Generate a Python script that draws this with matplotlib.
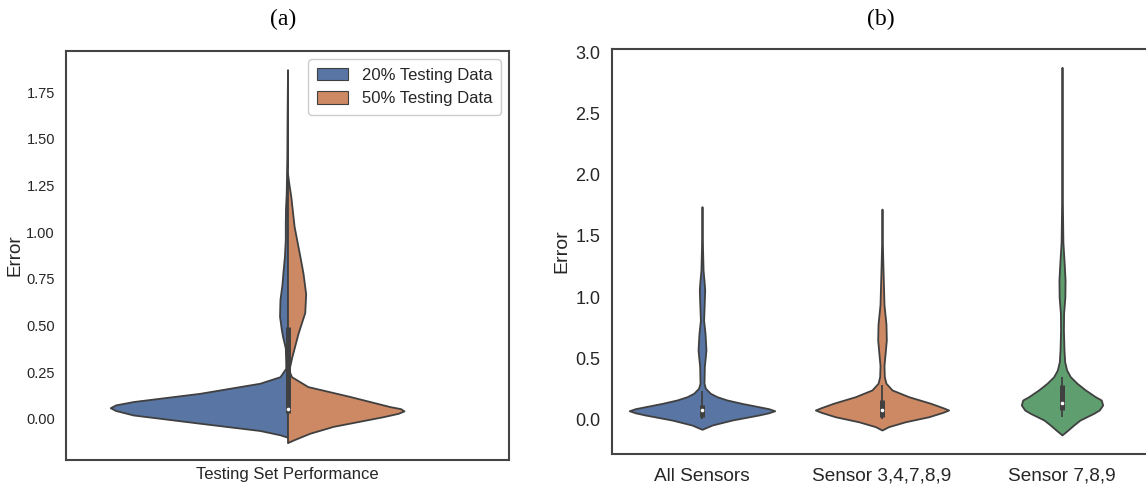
import numpy as np
import matplotlib
matplotlib.use("Agg")
import matplotlib.pyplot as plt
from matplotlib import font_manager
from matplotlib.patches import Patch

_names = {f.name for f in font_manager.fontManager.ttflist}
SANS = "Liberation Sans"
NARROW = "Liberation Sans Narrow" if "Liberation Sans Narrow" in _names else SANS
SERIF = "Liberation Serif"

BLUE, ORANGE, GREEN = "#5875a4", "#cc8963", "#5f9e6e"
EDGE = "#404040"
TXT = "#262626"

# ---- (a) split violin: 20% vs 50% testing data (profile = error level, half width)
a_blue_y = [-0.098, -0.085, -0.062, -0.023, 0.021, 0.045, 0.060, 0.075, 0.093, 0.137, 0.191, 0.226,
            0.271, 0.30, 0.38, 0.44, 0.48, 0.55, 0.64, 0.72, 0.78, 0.87, 0.96, 1.05,
            1.13, 1.20, 1.40, 1.60, 1.87]
a_blue_w = [0.0, 0.017, 0.0625, 0.198, 0.348, 0.388, 0.40, 0.388, 0.348, 0.198, 0.0625, 0.017,
            0.004, 0.004, 0.005, 0.011, 0.014, 0.018, 0.017, 0.0125, 0.0105, 0.007, 0.005, 0.005,
            0.0045, 0.003, 0.0015, 0.001, 0.0]
a_orange_y = [-0.127, -0.113, -0.077, -0.040, 0.012, 0.030, 0.043, 0.055, 0.066, 0.120, 0.173, 0.226,
              0.260, 0.330, 0.460, 0.570, 0.670, 0.780, 0.870, 1.030, 1.190, 1.260, 1.315]
a_orange_w = [0.0, 0.013, 0.050, 0.103, 0.216, 0.250, 0.263, 0.255, 0.231, 0.141, 0.046, 0.009,
              0.003, 0.0095, 0.024, 0.039, 0.041, 0.035, 0.028, 0.015, 0.0075, 0.003, 0.0]
a_box = dict(whisker=(0.02, 0.49), q=(0.03, 0.49), med=0.055)
a_labels = ["20% Testing Data", "50% Testing Data"]
a_xtick = "Testing Set Performance"
a_yticks = [0.00, 0.25, 0.50, 0.75, 1.00, 1.25, 1.50, 1.75]

# ---- (b) violins per sensor set
b_cats = ["All Sensors", "Sensor 3,4,7,8,9", "Sensor 7,8,9"]
b_all_y = [-0.082, -0.047, -0.006, 0.035, 0.053, 0.070, 0.087, 0.103, 0.130, 0.158, 0.185, 0.213,
           0.254, 0.295, 0.43, 0.567, 0.70, 0.81, 0.89, 0.97, 1.06, 1.14, 1.22, 1.40, 1.74]
b_all_w = [0.0, 0.056, 0.167, 0.315, 0.37, 0.404, 0.37, 0.315, 0.222, 0.139, 0.083, 0.046,
           0.019, 0.011, 0.013, 0.022, 0.017, 0.009, 0.011, 0.013, 0.015, 0.011, 0.006, 0.003, 0.0]
b_sub_y = [-0.088, -0.060, -0.020, 0.021, 0.058, 0.076, 0.094, 0.131, 0.185, 0.240, 0.295, 0.349,
           0.44, 0.55, 0.65, 0.78, 0.94, 1.10, 1.26, 1.45, 1.72]
b_sub_w = [0.0, 0.037, 0.130, 0.260, 0.34, 0.370, 0.34, 0.270, 0.148, 0.056, 0.022, 0.013,
           0.011, 0.018, 0.024, 0.022, 0.011, 0.008, 0.005, 0.002, 0.0]
b_few_y = [-0.128, -0.088, -0.047, -0.006, 0.049, 0.076, 0.117, 0.158, 0.185, 0.240, 0.295, 0.349,
           0.403, 0.470, 0.567, 0.73, 0.87, 1.00, 1.14, 1.28, 1.45, 1.80, 2.30, 2.88]
b_few_w = [0.0, 0.033, 0.065, 0.100, 0.176, 0.207, 0.226, 0.218, 0.185, 0.130, 0.083, 0.046,
           0.026, 0.015, 0.011, 0.008, 0.009, 0.016, 0.017, 0.012, 0.005, 0.002, 0.001, 0.0]
b_boxes = [dict(whisker=(0.0, 0.23), q=(0.02, 0.117), med=0.076),
           dict(whisker=(0.0, 0.28), q=(0.02, 0.16), med=0.08),
           dict(whisker=(0.02, 0.35), q=(0.076, 0.28), med=0.13)]
b_yticks = [0.0, 0.5, 1.0, 1.5, 2.0, 2.5, 3.0]


def inner_box(ax, x, b):
    ax.plot([x, x], b["whisker"], color=EDGE, lw=1.3, solid_capstyle="butt", zorder=3)
    ax.plot([x, x], b["q"], color=EDGE, lw=3.6, solid_capstyle="butt", zorder=4)
    ax.plot([x], [b["med"]], "o", color="white", ms=2.6, mew=0, zorder=5)


def style(ax):
    for s in ax.spines.values():
        s.set_color("#444444")
        s.set_linewidth(1.5)
    ax.tick_params(length=0)


fig = plt.figure(figsize=(11.46, 4.87), dpi=100)

# (a)
ax1 = fig.add_axes([66 / 1146, 1 - 460 / 487, 443 / 1146, 409 / 487])
ya, wa = np.array(a_blue_y), np.array(a_blue_w)
ax1.fill_betweenx(ya, -wa, 0, facecolor=BLUE, edgecolor=EDGE, lw=1.3, zorder=2)
yo, wo = np.array(a_orange_y), np.array(a_orange_w)
ax1.fill_betweenx(yo, 0, wo, facecolor=ORANGE, edgecolor=EDGE, lw=1.3, zorder=2)
inner_box(ax1, 0, a_box)
ax1.set_xlim(-0.5, 0.5)
ax1.set_ylim(-0.22, 1.97)
ax1.set_xticks([0])
ax1.set_xticklabels([a_xtick], family=NARROW, fontsize=12, color=TXT)
ax1.set_yticks(a_yticks)
ax1.set_yticklabels([f"{v:.2f}" for v in a_yticks], family=NARROW, fontsize=10.5, color=TXT)
ax1.tick_params(axis="y", pad=8)
ax1.tick_params(axis="x", pad=5)
ax1.set_ylabel("Error", family=SANS, fontsize=13.5, color=TXT)
ax1.yaxis.set_label_coords(-0.097, 0.5)
style(ax1)
handles = [Patch(facecolor=BLUE, edgecolor=EDGE, lw=0.8, label=a_labels[0]),
           Patch(facecolor=ORANGE, edgecolor=EDGE, lw=0.8, label=a_labels[1])]
leg = ax1.legend(handles=handles, loc="upper right", prop={"family": NARROW, "size": 12},
                 frameon=True, fancybox=True, edgecolor="#cccccc", framealpha=1,
                 labelspacing=0.5, handlelength=1.9, handleheight=0.8, borderpad=0.5)
for t in leg.get_texts():
    t.set_color(TXT)

# (b)
ax2 = fig.add_axes([612 / 1146, 1 - 454 / 487, 540 / 1146, 405 / 487])
for i, (yy, ww, c) in enumerate([(b_all_y, b_all_w, BLUE), (b_sub_y, b_sub_w, ORANGE),
                                 (b_few_y, b_few_w, GREEN)]):
    yy, ww = np.array(yy), np.array(ww)
    ax2.fill_betweenx(yy, i - ww, i + ww, facecolor=c, edgecolor=EDGE, lw=1.3, zorder=2)
    inner_box(ax2, i, b_boxes[i])
ax2.set_xlim(-0.5, 2.5)
ax2.set_ylim(-0.284, 3.03)
ax2.set_xticks(range(len(b_cats)))
ax2.set_xticklabels(b_cats, family=SANS, fontsize=13.7, color=TXT)
ax2.set_yticks(b_yticks)
ax2.set_yticklabels([f"{v:.1f}" for v in b_yticks], family=NARROW, fontsize=13, color=TXT)
ax2.tick_params(axis="y", pad=8.5)
ax2.tick_params(axis="x", pad=10)
ax2.set_ylabel("Error", family=SANS, fontsize=14, color=TXT)
ax2.yaxis.set_label_coords(-0.078, 0.5)
style(ax2)

fig.text(283 / 1146, 1 - 19 / 487, "(a)", family=SERIF, fontsize=17, ha="center", va="center")
fig.text(881 / 1146, 1 - 19 / 487, "(b)", family=SERIF, fontsize=17, ha="center", va="center")

fig.savefig("out.png", dpi=100, facecolor="white")
